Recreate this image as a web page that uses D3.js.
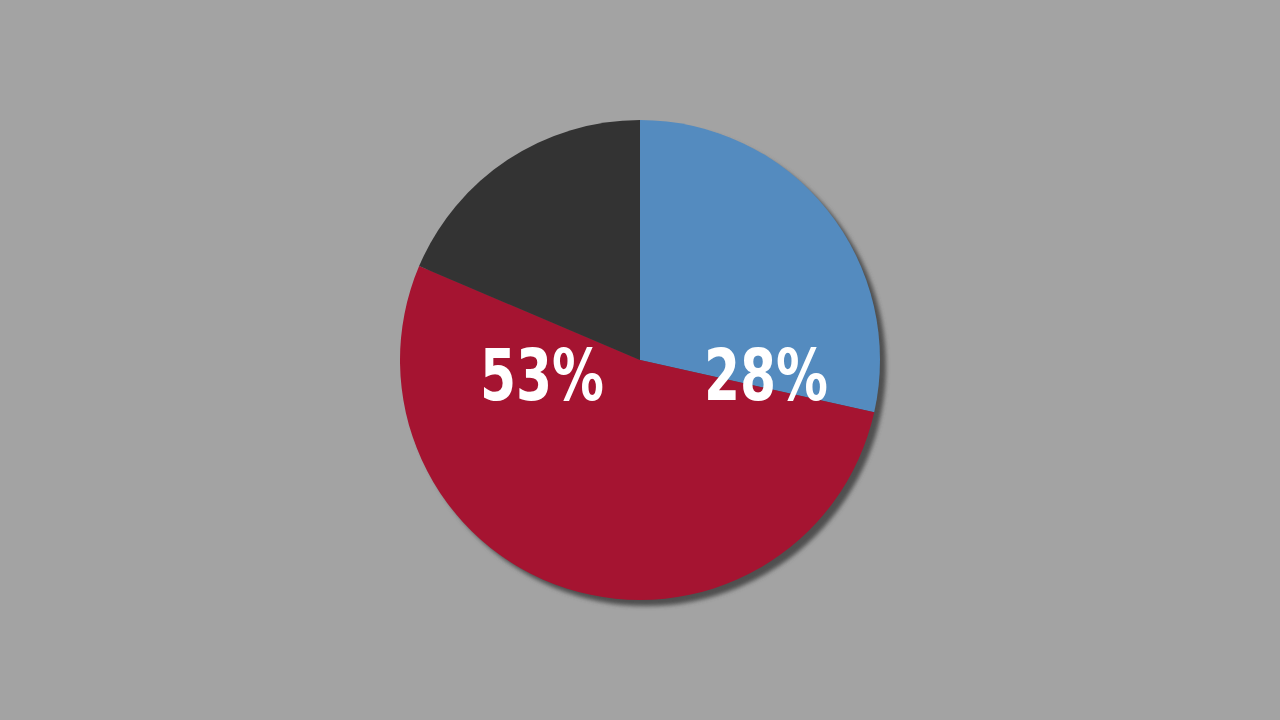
<!DOCTYPE html>
<html>
<head>
<meta charset="utf-8">
<script src="https://cdn.jsdelivr.net/npm/d3@7"></script>
<style>
  html, body { margin: 0; padding: 0; background: #a3a3a3; }
  svg { display: block; }
</style>
</head>
<body>
<div id="chart"></div>
<script>
// Chart data (shares)
const categories = ["Blue", "Red", "Black"];
const values = [28.5, 52.9, 18.6];
const labels = ["28%", "53%", ""];
const colors = ["#548bbf", "#a51431", "#333333"];

const width = 1280, height = 720;
const radius = 240;

const svg = d3.select("#chart")
    .append("svg")
    .attr("width", width)
    .attr("height", height);

svg.append("rect")
    .attr("width", width)
    .attr("height", height)
    .attr("fill", "#a3a3a3");

// soft drop shadow
const defs = svg.append("defs");
const blur = defs.append("filter").attr("id", "shadow")
    .attr("x", "-10%").attr("y", "-10%").attr("width", "120%").attr("height", "120%");
blur.append("feGaussianBlur").attr("stdDeviation", 2);

const g = svg.append("g")
    .attr("transform", `translate(${640},${360})`);

g.append("circle")
    .attr("cx", 6)
    .attr("cy", 6)
    .attr("r", radius)
    .attr("fill", "#4f4f4f")
    .attr("filter", "url(#shadow)");

const data = categories.map((c, i) => ({ category: c, value: values[i], label: labels[i] }));

const color = d3.scaleOrdinal()
    .domain(categories)
    .range(colors);

const pie = d3.pie()
    .sort(null)
    .value(d => d.value);

const arc = d3.arc()
    .innerRadius(0)
    .outerRadius(radius);

g.selectAll("path")
    .data(pie(data))
    .enter()
    .append("path")
    .attr("d", arc)
    .attr("fill", d => color(d.data.category));

// Labels sit on a horizontal line just below the centre
g.selectAll("text")
    .data(pie(data).filter(d => d.data.label))
    .enter()
    .append("text")
    .text(d => d.data.label)
    .attr("transform", d => {
        const mid = (d.startAngle + d.endAngle) / 2;
        const x = Math.sin(mid) > 0 ? 126 : -98;
        return `translate(${x},40) scale(0.8,1)`;
    })
    .attr("text-anchor", "middle")
    .attr("fill", "#ffffff")
    .style("font-family", "'DejaVu Sans Condensed', 'DejaVu Sans', sans-serif")
    .style("font-weight", "bold")
    .style("font-size", "72px");
</script>
</body>
</html>
